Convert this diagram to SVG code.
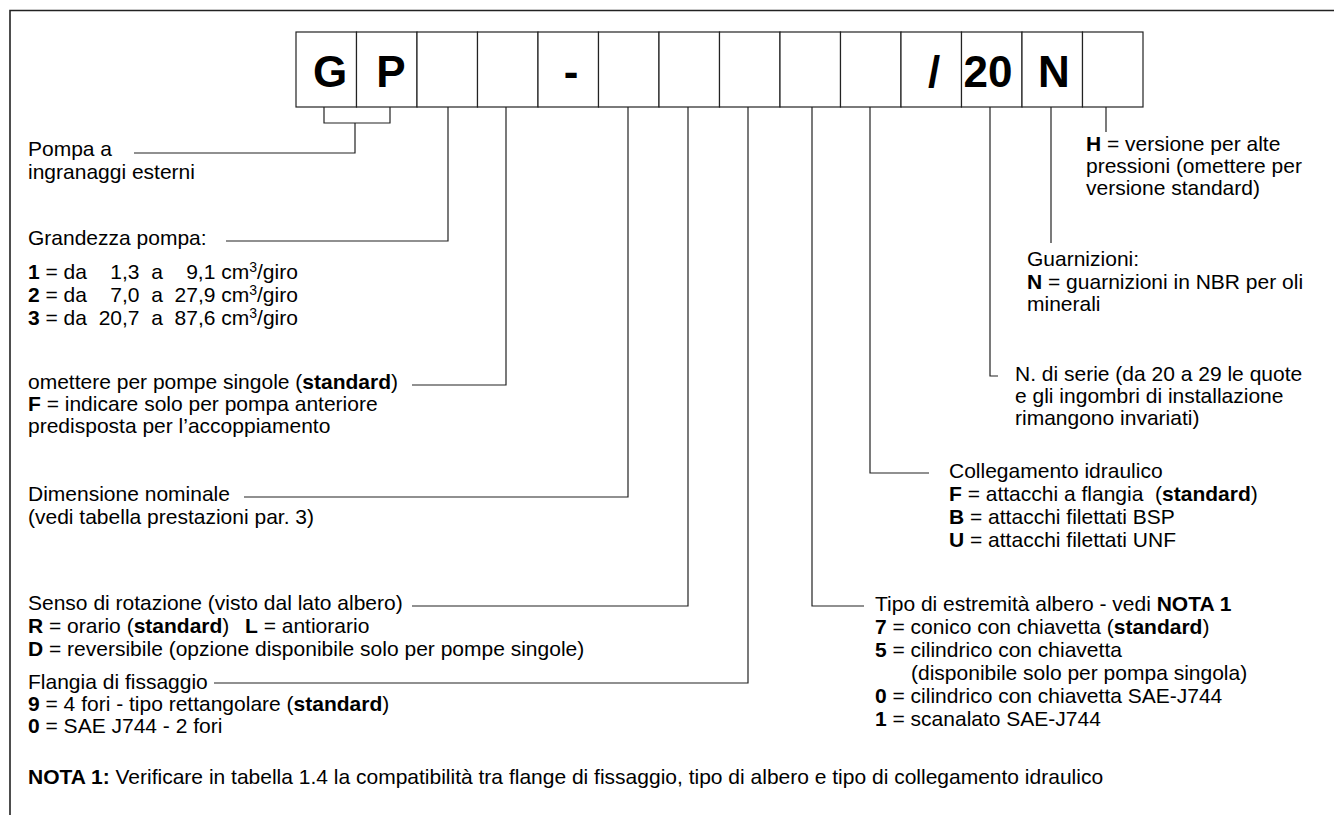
<svg xmlns="http://www.w3.org/2000/svg" width="1334" height="815" viewBox="0 0 1334 815">
<style>
text{font-family:"Liberation Sans",Arial,Helvetica,sans-serif;font-size:21px;fill:#000;white-space:pre}
.b{font-weight:bold}
.big{font-size:44px;font-weight:bold;text-anchor:middle}
.box{fill:#fff;stroke:#222;stroke-width:1.2}
.ln{fill:none;stroke:#222;stroke-width:1.2}
.frame{fill:none;stroke:#222;stroke-width:1.6}
.sup{font-size:14px}
</style>
<rect width="1334" height="815" fill="#fff"/>
<path class="frame" d="M10,815 V10.5 H1334"/>

<g id="code">
<rect class="box" x="296" y="32" width="60.5" height="75"/>
<rect class="box" x="356.5" y="32" width="60.5" height="75"/>
<rect class="box" x="417" y="32" width="60.5" height="75"/>
<rect class="box" x="477.5" y="32" width="60.5" height="75"/>
<rect class="box" x="538" y="32" width="60.5" height="75"/>
<rect class="box" x="598.5" y="32" width="60.5" height="75"/>
<rect class="box" x="659" y="32" width="60.5" height="75"/>
<rect class="box" x="719.5" y="32" width="60.5" height="75"/>
<rect class="box" x="780" y="32" width="60.5" height="75"/>
<rect class="box" x="840.5" y="32" width="60.5" height="75"/>
<rect class="box" x="901" y="32" width="60.5" height="75"/>
<rect class="box" x="961.5" y="32" width="60.5" height="75"/>
<rect class="box" x="1022" y="32" width="60.5" height="75"/>
<rect class="box" x="1082.5" y="32" width="60.5" height="75"/>
<text class="big" x="330" y="87">G</text>
<text class="big" x="391" y="87">P</text>
<text class="big" x="571" y="87">-</text>
<text class="big" x="934" y="87">/</text>
<text class="big" x="988" y="87">20</text>
<text class="big" x="1054" y="87">N</text>
</g>

<g id="connectors">
<path class="ln" d="M324,107 V123 H390 V107 M355,123 V153 H134"/>
<path class="ln" d="M448,107 V241 H226"/>
<path class="ln" d="M506,107 V385 H412"/>
<path class="ln" d="M628,107 V497 H244"/>
<path class="ln" d="M688,107 V606 H412"/>
<path class="ln" d="M748,107 V683 H214"/>
<path class="ln" d="M812,107 V606 H864"/>
<path class="ln" d="M870,107 V473 H929"/>
<path class="ln" d="M990,107 V376 H998"/>
<path class="ln" d="M1051,107 V243"/>
<path class="ln" d="M1106,107 V132"/>
</g>

<g id="n-pompa">
<text x="28" y="156">Pompa a</text>
<text x="28" y="179">ingranaggi esterni</text>
</g>

<g id="n-grandezza">
<text x="28" y="245">Grandezza pompa:</text>
<text x="28" y="279"><tspan class="b">1</tspan> = da    1,3  a    9,1 cm<tspan class="sup" dy="-7">3</tspan><tspan dy="7">/giro</tspan></text>
<text x="28" y="302"><tspan class="b">2</tspan> = da    7,0  a  27,9 cm<tspan class="sup" dy="-7">3</tspan><tspan dy="7">/giro</tspan></text>
<text x="28" y="325"><tspan class="b">3</tspan> = da  20,7  a  87,6 cm<tspan class="sup" dy="-7">3</tspan><tspan dy="7">/giro</tspan></text>
</g>

<g id="n-accoppiamento">
<text x="28" y="389">omettere per pompe singole (<tspan class="b">standard</tspan>)</text>
<text x="28" y="411"><tspan class="b">F</tspan> = indicare solo per pompa anteriore</text>
<text x="28" y="433">predisposta per l’accoppiamento</text>
</g>

<g id="n-dimensione">
<text x="28" y="501">Dimensione nominale</text>
<text x="28" y="524">(vedi tabella prestazioni par. 3)</text>
</g>

<g id="n-rotazione">
<text x="28" y="610">Senso di rotazione (visto dal lato albero)</text>
<text x="28" y="633"><tspan class="b">R</tspan> = orario (<tspan class="b">standard</tspan>)</text>
<text x="245" y="633"><tspan class="b">L</tspan> = antiorario</text>
<text x="28" y="656"><tspan class="b">D</tspan> = reversibile (opzione disponibile solo per pompe singole)</text>
</g>

<g id="n-flangia">
<text x="28" y="689">Flangia di fissaggio</text>
<text x="28" y="711"><tspan class="b">9</tspan> = 4 fori - tipo rettangolare (<tspan class="b">standard</tspan>)</text>
<text x="28" y="733"><tspan class="b">0</tspan> = SAE J744 - 2 fori</text>
</g>

<g id="n-nota">
<text x="28" y="784"><tspan class="b">NOTA 1:</tspan> Verificare in tabella 1.4 la compatibilità tra flange di fissaggio, tipo di albero e tipo di collegamento idraulico</text>
</g>

<g id="n-alberi">
<text x="875" y="611">Tipo di estremità albero - vedi <tspan class="b">NOTA 1</tspan></text>
<text x="875" y="634"><tspan class="b">7</tspan> = conico con chiavetta (<tspan class="b">standard</tspan>)</text>
<text x="875" y="657"><tspan class="b">5</tspan> = cilindrico con chiavetta</text>
<text x="911" y="680">(disponibile solo per pompa singola)</text>
<text x="875" y="703"><tspan class="b">0</tspan> = cilindrico con chiavetta SAE-J744</text>
<text x="875" y="726"><tspan class="b">1</tspan> = scanalato SAE-J744</text>
</g>

<g id="n-collegamento">
<text x="949" y="478">Collegamento idraulico</text>
<text x="949" y="501"><tspan class="b">F</tspan> = attacchi a flangia  (<tspan class="b">standard</tspan>)</text>
<text x="949" y="524"><tspan class="b">B</tspan> = attacchi filettati BSP</text>
<text x="949" y="547"><tspan class="b">U</tspan> = attacchi filettati UNF</text>
</g>

<g id="n-serie">
<text x="1015" y="381">N. di serie (da 20 a 29 le quote</text>
<text x="1015" y="403">e gli ingombri di installazione</text>
<text x="1015" y="425">rimangono invariati)</text>
</g>

<g id="n-guarnizioni">
<text x="1027" y="266">Guarnizioni:</text>
<text x="1027" y="289"><tspan class="b">N</tspan> = guarnizioni in NBR per oli</text>
<text x="1027" y="311">minerali</text>
</g>

<g id="n-alte">
<text x="1086" y="151"><tspan class="b">H</tspan> = versione per alte</text>
<text x="1086" y="173">pressioni (omettere per</text>
<text x="1086" y="195">versione standard)</text>
</g>
</svg>
